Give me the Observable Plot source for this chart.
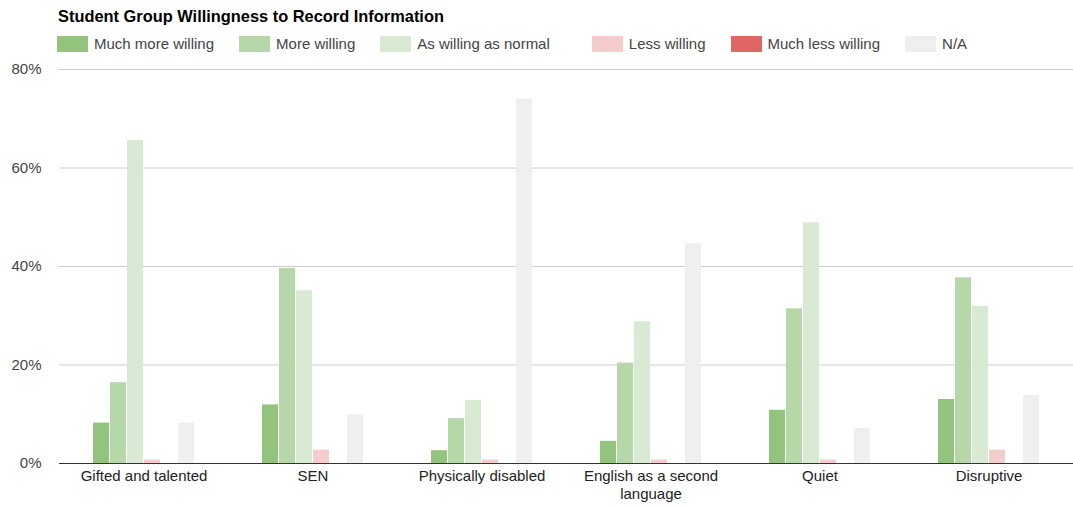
<!DOCTYPE html>
<html>
<head>
<meta charset="utf-8">
<script src="https://cdn.jsdelivr.net/npm/d3@7"></script>
<script src="https://cdn.jsdelivr.net/npm/@observablehq/plot@0.6"></script>
<style>
  body { margin: 0; background: #fff; font-family: "Liberation Sans", Arial, sans-serif; width: 1073px; height: 507px; position: relative; overflow: hidden; }
  #title { position: absolute; left: 58px; top: 7px; font-weight: bold; font-size: 16.4px; color: #000; }
  #legend { position: absolute; left: 57px; top: 35px; display: flex; align-items: center; font-size: 15px; color: #444; }
  .item { display: flex; align-items: center; margin-right: 25px; }
  .item.wide { margin-right: 42px; }
  .sw { width: 31px; height: 16px; margin-right: 6px; }
  #chart { position: absolute; left: 0; top: 56px; }
  #chart g[aria-label="fx-axis"], #chart g[aria-label="fx-axis tick label"] { color: #222; }
  #chart g[aria-label="y-axis"], #chart g[aria-label="y-axis tick label"] { color: #444; }
</style>
</head>
<body>
<div id="title">Student Group Willingness to Record Information</div>
<div id="legend"></div>
<div id="chart"></div>
<script>
const groups = ["Gifted and talented", "SEN", "Physically disabled", "English as a second language", "Quiet", "Disruptive"];
const groupTickLabels = ["Gifted and talented", "SEN", "Physically disabled", "English as a second\nlanguage", "Quiet", "Disruptive"];
const series = ["Much more willing", "More willing", "As willing as normal", "Less willing", "Much less willing", "N/A"];
const colors = ["#93c47d", "#b6d7a8", "#d9ead3", "#f4cccc", "#e06666", "#efefef"];
const muchMoreWilling = [8.2, 11.9, 2.6, 4.5, 10.8, 13.0];
const moreWilling     = [16.4, 39.6, 9.1, 20.4, 31.4, 37.7];
const asWilling       = [65.6, 35.1, 12.8, 28.8, 48.9, 31.9];
const lessWilling     = [0.7, 2.7, 0.7, 0.7, 0.7, 2.7];
const muchLessWilling = [0, 0, 0, 0, 0, 0];
const notApplicable   = [8.2, 9.9, 74.0, 44.6, 7.1, 13.8];
const yTicks = [0, 20, 40, 60, 80];

const seriesValues = [muchMoreWilling, moreWilling, asWilling, lessWilling, muchLessWilling, notApplicable];
const data = [];
groups.forEach((g, gi) => series.forEach((s, si) => data.push({group: g, series: s, value: seriesValues[si][gi]})));

// legend
const legend = document.getElementById("legend");
series.forEach((s, i) => {
  const it = document.createElement("div");
  it.className = i === 2 ? "item wide" : "item";
  const sw = document.createElement("div");
  sw.className = "sw";
  sw.style.background = colors[i];
  const t = document.createElement("span");
  t.textContent = s;
  it.appendChild(sw); it.appendChild(t);
  legend.appendChild(it);
});

const chart = Plot.plot({
  width: 1073,
  height: 451,
  marginTop: 13,
  marginBottom: 44,
  marginLeft: 58,
  marginRight: 0,
  style: { fontFamily: "'Liberation Sans', Arial, sans-serif", fontSize: "15px", background: "#fff" },
  fx: { domain: groups, padding: 0, label: null, axis: "bottom", tickSize: 0, tickPadding: 7,
        tickFormat: d => groupTickLabels[groups.indexOf(d)] },
  x: { domain: series, paddingInner: 0.06, paddingOuter: 1.81, axis: null },
  y: { domain: [0, 80], ticks: yTicks, tickFormat: d => d + "%", tickSize: 0, tickPadding: 18, label: null },
  color: { domain: series, range: colors },
  marks: [
    Plot.ruleY(yTicks.filter(d => d > 0), { stroke: "#cccccc", strokeWidth: 1 }),
    Plot.barY(data, { fx: "group", x: "series", y: "value", fill: "series" }),
    Plot.ruleY([0], { stroke: "#333", strokeWidth: 1 })
  ]
});
// looser line spacing for wrapped axis labels
d3.select(chart).selectAll("text tspan").each(function() {
  if (this.getAttribute("dy") === "1em") this.setAttribute("dy", "1.2em");
});
document.getElementById("chart").appendChild(chart);
</script>
</body>
</html>
